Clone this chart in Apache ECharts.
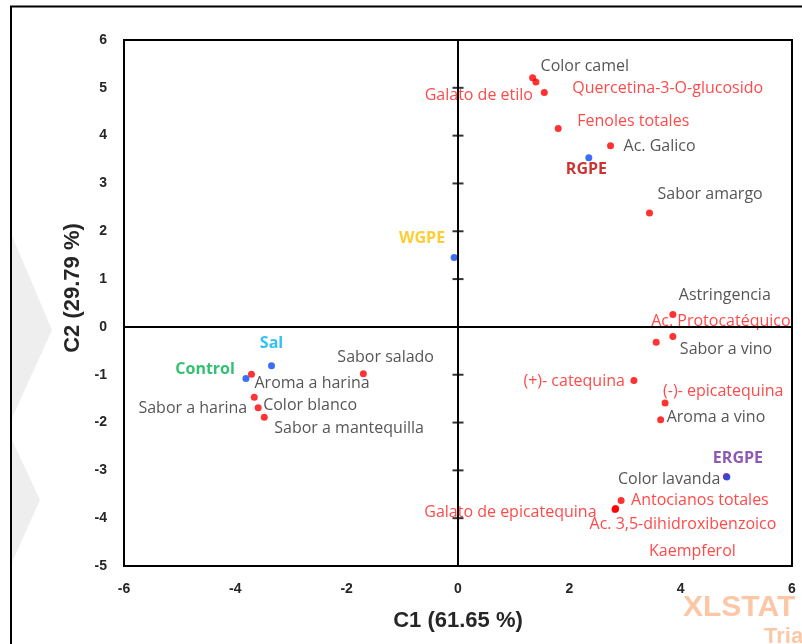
<!DOCTYPE html>
<html>
<head>
<meta charset="utf-8">
<script src="https://cdn.jsdelivr.net/npm/echarts@6/dist/echarts.min.js"></script>
<style>
  html, body { margin: 0; padding: 0; background: #ffffff; }
  #chart { width: 802px; height: 644px; }
</style>
</head>
<body>
<div id="chart"></div>
<script>
// Variables (loadings on the first two components)
const varNames = [
  'Color camel', 'Galato de etilo', 'Quercetina-3-O-glucosido', 'Fenoles totales',
  'Ac. Galico', 'Sabor amargo', 'Astringencia', 'Ac. Protocatéquico', 'Sabor a vino',
  '(+)- catequina', '(-)- epicatequina', 'Aroma a vino', 'Color lavanda',
  'Antocianos totales', 'Galato de epicatequina', 'Ac. 3,5-dihidroxibenzoico', 'Kaempferol',
  'Sabor salado', 'Aroma a harina', 'Sabor a harina', 'Color blanco', 'Sabor a mantequilla'
];
const varC1 = [1.34, 1.40, 1.55, 1.80, 2.74, 3.44, 3.86, 3.56, 3.86, 3.16, 3.72, 3.64, 4.82,
               2.93, 2.83, 2.83, 2.82, -1.70, -3.71, -3.66, -3.59, -3.48];
const varC2 = [5.21, 5.12, 4.90, 4.15, 3.79, 2.38, 0.26, -0.32, -0.20, -1.12, -1.59, -1.94, -3.13,
               -3.63, -3.81, -3.80, -3.82, -0.98, -0.99, -1.47, -1.69, -1.89];
// Variables whose labels are printed in red (phenolic compounds)
const redVars = [
  'Galato de etilo', 'Quercetina-3-O-glucosido', 'Fenoles totales', 'Ac. Protocatéquico',
  '(+)- catequina', '(-)- epicatequina', 'Antocianos totales', 'Galato de epicatequina',
  'Ac. 3,5-dihidroxibenzoico', 'Kaempferol'
];

// Samples (scores on the first two components)
const obsNames = ['RGPE', 'WGPE', 'Sal', 'Control', 'ERGPE'];
const obsC1 = [2.35, -0.07, -3.35, -3.81, 4.83];
const obsC2 = [3.54, 1.45, -0.81, -1.08, -3.14];

// Axis ranges and ticks
const xMin = -6, xMax = 6, xStep = 2;
const yMin = -5, yMax = 6, yStep = 1;
const yTicks = [-5, -4, -3, -2, -1, 1, 2, 3, 4, 5, 6];

const xTitle = 'C1 (61.65 %)';
const yTitle = 'C2 (29.79 %)';

// ---- presentation ----
const obsLabelColor = {
  RGPE: '#c00000', WGPE: '#ffc000', Sal: '#00b0f0', Control: '#00b050', ERGPE: '#7030a0'
};
// [align, dx, dy] of each label relative to its point
const labelPlace = {
  'Color camel': ['left', 8, -11],
  'Galato de etilo': ['right', -3, 13],
  'Quercetina-3-O-glucosido': ['left', 28, -4],
  'Fenoles totales': ['left', 19, -7],
  'Ac. Galico': ['left', 13, 1],
  'Sabor amargo': ['left', 8, -19],
  'Astringencia': ['left', 6, -19],
  'Ac. Protocatéquico': ['left', -5, -21],
  'Sabor a vino': ['left', 7, 13],
  '(+)- catequina': ['right', -9, 1],
  '(-)- epicatequina': ['left', -2, -12],
  'Aroma a vino': ['left', 6, -2],
  'Color lavanda': ['right', -6, 3],
  'Antocianos totales': ['left', 10, 0],
  'Galato de epicatequina': ['right', -19, 3],
  'Ac. 3,5-dihidroxibenzoico': ['left', -26, 16],
  'Kaempferol': ['left', 34, 42],
  'Sabor salado': ['left', -26, -16],
  'Aroma a harina': ['left', 3, 9],
  'Sabor a harina': ['right', -7, 11],
  'Color blanco': ['left', 5, -2],
  'Sabor a mantequilla': ['left', 10, 11],
  'RGPE': ['left', -23, 12],
  'WGPE': ['right', -9, -19],
  'Sal': ['center', 0, -22],
  'Control': ['right', -11, -9],
  'ERGPE': ['left', -14, -19]
};

const labelFont = '"Open Sans", "Noto Sans", sans-serif';

function pointLabel(name, color, bold) {
  const p = labelPlace[name];
  return {
    show: true,
    formatter: name,
    position: 'inside',
    align: p[0],
    verticalAlign: 'middle',
    offset: [p[1], p[2]],
    color: color,
    fontFamily: labelFont,
    fontSize: 16,
    fontWeight: bold ? 'bold' : 'normal'
  };
}

const varData = varNames.map((n, i) => ({
  name: n,
  value: [varC1[i], varC2[i]],
  label: pointLabel(n, redVars.includes(n) ? '#ff1a1a' : '#2b2b2b', false)
}));
const obsData = obsNames.map((n, i) => ({
  name: n,
  value: [obsC1[i], obsC2[i]],
  label: pointLabel(n, obsLabelColor[n], true)
}));
const tickData = yTicks.map(v => [0, v]);

const chart = echarts.init(document.getElementById('chart'), null, { renderer: 'canvas' });

const tickLabelStyle = {
  color: '#262626',
  fontFamily: '"Liberation Sans", Arial, sans-serif',
  fontWeight: 'bold',
  fontSize: 14
};

chart.setOption({
  animation: false,
  backgroundColor: '#ffffff',
  grid: {
    left: 124, top: 40, width: 668, height: 526,
    show: true, borderColor: '#000000', borderWidth: 2, backgroundColor: 'transparent'
  },
  xAxis: {
    type: 'value', min: xMin, max: xMax, interval: xStep,
    axisLine: { show: false, onZero: false },
    axisTick: { show: false },
    splitLine: { show: false },
    axisLabel: Object.assign({ margin: 16 }, tickLabelStyle)
  },
  yAxis: {
    type: 'value', min: yMin, max: yMax, interval: yStep,
    axisLine: { show: false, onZero: false },
    axisTick: { show: false },
    splitLine: { show: false },
    axisLabel: Object.assign({ margin: 17 }, tickLabelStyle)
  },
  graphic: [
    // faint logo shapes on the left margin
    { type: 'polygon', z: -10, silent: true,
      shape: { points: [[12, 236], [52, 330], [12, 418]] },
      style: { fill: '#eeeeee' } },
    { type: 'polygon', z: -10, silent: true,
      shape: { points: [[12, 440], [40, 500], [12, 562]] },
      style: { fill: '#eeeeee' } },
    // outer frame
    { type: 'rect', z: 10, silent: true,
      shape: { x: 11, y: 6.5, width: 820, height: 700 },
      style: { fill: null, stroke: '#000000', lineWidth: 2 } },
    // axis titles
    { type: 'text', z: 10, silent: true, x: 458, y: 621,
      style: { text: xTitle, align: 'center', verticalAlign: 'middle',
               font: 'bold 22px "Liberation Sans", Arial, sans-serif', fill: '#262626' } },
    { type: 'text', z: 10, silent: true, x: 73, y: 288, rotation: Math.PI / 2,
      style: { text: yTitle, align: 'center', verticalAlign: 'middle',
               font: 'bold 22px "Liberation Sans", Arial, sans-serif', fill: '#262626' } },
    // trial stamp
    { type: 'text', z: 10, silent: true, x: 683, y: 608,
      style: { text: 'XLSTAT', align: 'left', verticalAlign: 'middle',
               font: 'bold 30px "Liberation Sans", Arial, sans-serif', fill: '#fcc7a6' } },
    { type: 'text', z: 10, silent: true, x: 764, y: 637,
      style: { text: 'Trial', align: 'left', verticalAlign: 'middle',
               font: 'bold 22px "Liberation Sans", Arial, sans-serif', fill: '#fcc7a6' } }
  ],
  series: [
    {
      // zero axes and tick marks on the vertical one
      type: 'scatter',
      data: tickData,
      symbol: 'rect',
      symbolSize: [11, 2],
      itemStyle: { color: '#000000' },
      silent: true,
      z: 1,
      emphasis: { disabled: true },
      markLine: {
        silent: true,
        symbol: ['none', 'none'],
        label: { show: false },
        lineStyle: { color: '#000000', width: 2, type: 'solid' },
        emphasis: { disabled: true },
        data: [{ xAxis: 0 }, { yAxis: 0 }]
      }
    },
    {
      name: 'Variables',
      type: 'scatter',
      data: varData,
      symbolSize: 7,
      itemStyle: { color: '#ff0000' },
      z: 3,
      emphasis: { disabled: true }
    },
    {
      name: 'Observaciones',
      type: 'scatter',
      data: obsData,
      symbolSize: 7,
      itemStyle: { color: '#0a4af5' },
      z: 4,
      emphasis: { disabled: true }
    }
  ]
});
</script>
</body>
</html>
